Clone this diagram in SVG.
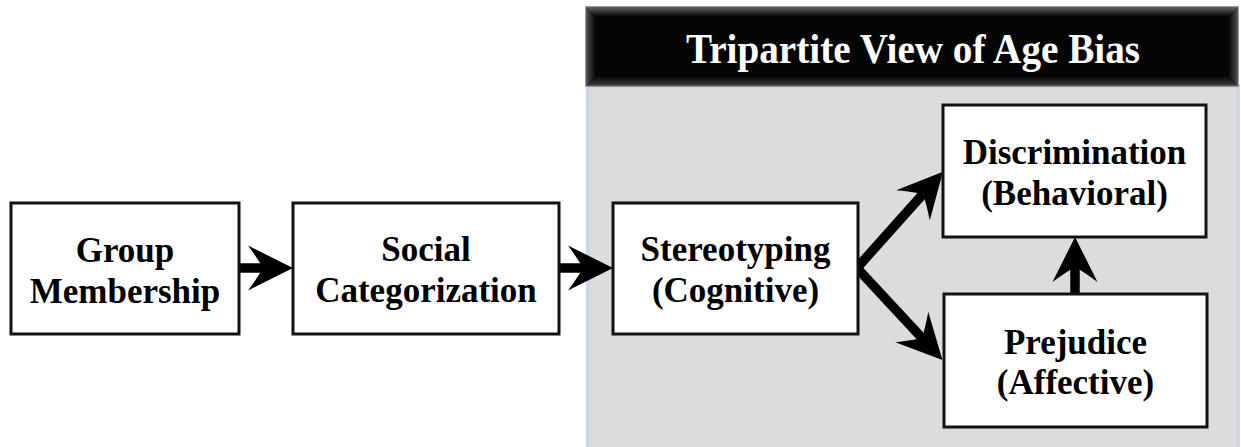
<svg xmlns="http://www.w3.org/2000/svg" width="1241" height="447" viewBox="0 0 1241 447">
<style>
.box{fill:#ffffff;stroke:#111111;stroke-width:3}
.lbl{font-family:"Liberation Serif","Times New Roman",serif;font-weight:bold;font-size:35px;fill:#000000;text-anchor:middle}
.title{font-family:"Liberation Serif","Times New Roman",serif;font-weight:bold;font-size:42px;fill:#ffffff;text-anchor:middle}
.conn{stroke:#000000;stroke-width:9.5;fill:none;stroke-linecap:butt}
.bevR{fill:url(#gR)}
.bevB{fill:url(#gB)}
.bevL{fill:url(#gL)}
.bevT{fill:url(#gT)}
</style>
<defs>
<linearGradient id="gR" x1="0" y1="0" x2="1" y2="0"><stop offset="0" stop-color="#ffffff"/><stop offset="1" stop-color="#9c9c9c"/></linearGradient>
<linearGradient id="gB" x1="0" y1="0" x2="0" y2="1"><stop offset="0" stop-color="#ffffff"/><stop offset="1" stop-color="#9c9c9c"/></linearGradient>
<linearGradient id="gL" x1="0" y1="0" x2="1" y2="0"><stop offset="0" stop-color="#e0e0e0"/><stop offset="1" stop-color="#ffffff"/></linearGradient>
<linearGradient id="gT" x1="0" y1="0" x2="0" y2="1"><stop offset="0" stop-color="#e0e0e0"/><stop offset="1" stop-color="#ffffff"/></linearGradient>
<linearGradient id="hT" x1="0" y1="0" x2="0" y2="1"><stop offset="0" stop-color="#5a5a5a"/><stop offset="1" stop-color="#0a0a0a"/></linearGradient>
<linearGradient id="hB" x1="0" y1="0" x2="0" y2="1"><stop offset="0" stop-color="#0a0a0a"/><stop offset="1" stop-color="#3a3a3a"/></linearGradient>
<linearGradient id="hL" x1="0" y1="0" x2="1" y2="0"><stop offset="0" stop-color="#4a4a4a"/><stop offset="1" stop-color="#0a0a0a"/></linearGradient>
<linearGradient id="hR" x1="0" y1="0" x2="1" y2="0"><stop offset="0" stop-color="#0a0a0a"/><stop offset="1" stop-color="#4a4a4a"/></linearGradient>
<marker id="ah" markerUnits="userSpaceOnUse" viewBox="-18 -24 50 48" markerWidth="50" markerHeight="48" refX="0" refY="0" orient="auto" overflow="visible">
<path d="M30,0 L-15,-22.5 Q-5,-9 0,0 Q-5,9 -15,22.5 Z" fill="#000000"/>
</marker>
</defs>

<g id="panel">
<rect x="588" y="86" width="650" height="370" fill="#dcdcdc" stroke="#cbd6e8" stroke-width="4"/>
</g>

<g id="header">
<rect x="586" y="7" width="652" height="79" fill="#050505" stroke="#7a7a7a" stroke-width="1.5"/>
<polygon points="587,8 1237,8 1229,16 595,16" fill="url(#hT)"/>
<polygon points="587,85 1237,85 1229,77 595,77" fill="url(#hB)"/>
<polygon points="587,8 595,16 595,77 587,85" fill="url(#hL)"/>
<polygon points="1237,8 1229,16 1229,77 1237,85" fill="url(#hR)"/>
<text class="title" x="913" y="63" textLength="454" lengthAdjust="spacingAndGlyphs">Tripartite View of Age Bias</text>
</g>

<g id="connectors">
<line class="conn" x1="239" y1="268" x2="263" y2="268" marker-end="url(#ah)"/>
<line class="conn" x1="559" y1="268" x2="583" y2="268" marker-end="url(#ah)"/>
<line class="conn" x1="856" y1="269" x2="923" y2="194" marker-end="url(#ah)"/>
<line class="conn" x1="856" y1="267" x2="922" y2="338" marker-end="url(#ah)"/>
<line class="conn" x1="1075" y1="295" x2="1075" y2="267" marker-end="url(#ah)"/>
</g>

<g id="node-group-membership">
<rect x="11" y="203" width="228" height="131" fill="#ffffff"/>
<polygon class="bevL" points="11,203 18,210 18,327 11,334"/>
<polygon class="bevT" points="11,203 239,203 232,210 18,210"/>
<polygon class="bevR" points="239,203 239,334 232,327 232,210"/>
<polygon class="bevB" points="11,334 239,334 232,327 18,327"/>
<rect class="box" x="11" y="203" width="228" height="131" fill="none"/>
<text class="lbl" x="125" y="262">Group</text>
<text class="lbl" x="125" y="303">Membership</text>
</g>

<g id="node-social-categorization">
<rect x="293" y="203" width="266" height="131" fill="#ffffff"/>
<polygon class="bevL" points="293,203 300,210 300,327 293,334"/>
<polygon class="bevT" points="293,203 559,203 552,210 300,210"/>
<polygon class="bevR" points="559,203 559,334 552,327 552,210"/>
<polygon class="bevB" points="293,334 559,334 552,327 300,327"/>
<rect class="box" x="293" y="203" width="266" height="131" fill="none"/>
<text class="lbl" x="426" y="261">Social</text>
<text class="lbl" x="426" y="302">Categorization</text>
</g>

<g id="node-stereotyping">
<rect x="613" y="203" width="245" height="131" fill="#ffffff"/>
<polygon class="bevL" points="613,203 620,210 620,327 613,334"/>
<polygon class="bevT" points="613,203 858,203 851,210 620,210"/>
<polygon class="bevR" points="858,203 858,334 851,327 851,210"/>
<polygon class="bevB" points="613,334 858,334 851,327 620,327"/>
<rect class="box" x="613" y="203" width="245" height="131" fill="none"/>
<text class="lbl" x="735.5" y="261">Stereotyping</text>
<text class="lbl" x="735.5" y="302">(Cognitive)</text>
</g>

<g id="node-discrimination">
<rect x="943" y="105" width="263" height="132" fill="#ffffff"/>
<polygon class="bevL" points="943,105 950,112 950,230 943,237"/>
<polygon class="bevT" points="943,105 1206,105 1199,112 950,112"/>
<polygon class="bevR" points="1206,105 1206,237 1199,230 1199,112"/>
<polygon class="bevB" points="943,237 1206,237 1199,230 950,230"/>
<rect class="box" x="943" y="105" width="263" height="132" fill="none"/>
<text class="lbl" x="1074.5" y="164">Discrimination</text>
<text class="lbl" x="1074.5" y="205">(Behavioral)</text>
</g>

<g id="node-prejudice">
<rect x="944" y="294" width="263" height="133" fill="#ffffff"/>
<polygon class="bevL" points="944,294 951,301 951,420 944,427"/>
<polygon class="bevT" points="944,294 1207,294 1200,301 951,301"/>
<polygon class="bevR" points="1207,294 1207,427 1200,420 1200,301"/>
<polygon class="bevB" points="944,427 1207,427 1200,420 951,420"/>
<rect class="box" x="944" y="294" width="263" height="133" fill="none"/>
<text class="lbl" x="1075.5" y="354">Prejudice</text>
<text class="lbl" x="1075.5" y="394">(Affective)</text>
</g>
</svg>
